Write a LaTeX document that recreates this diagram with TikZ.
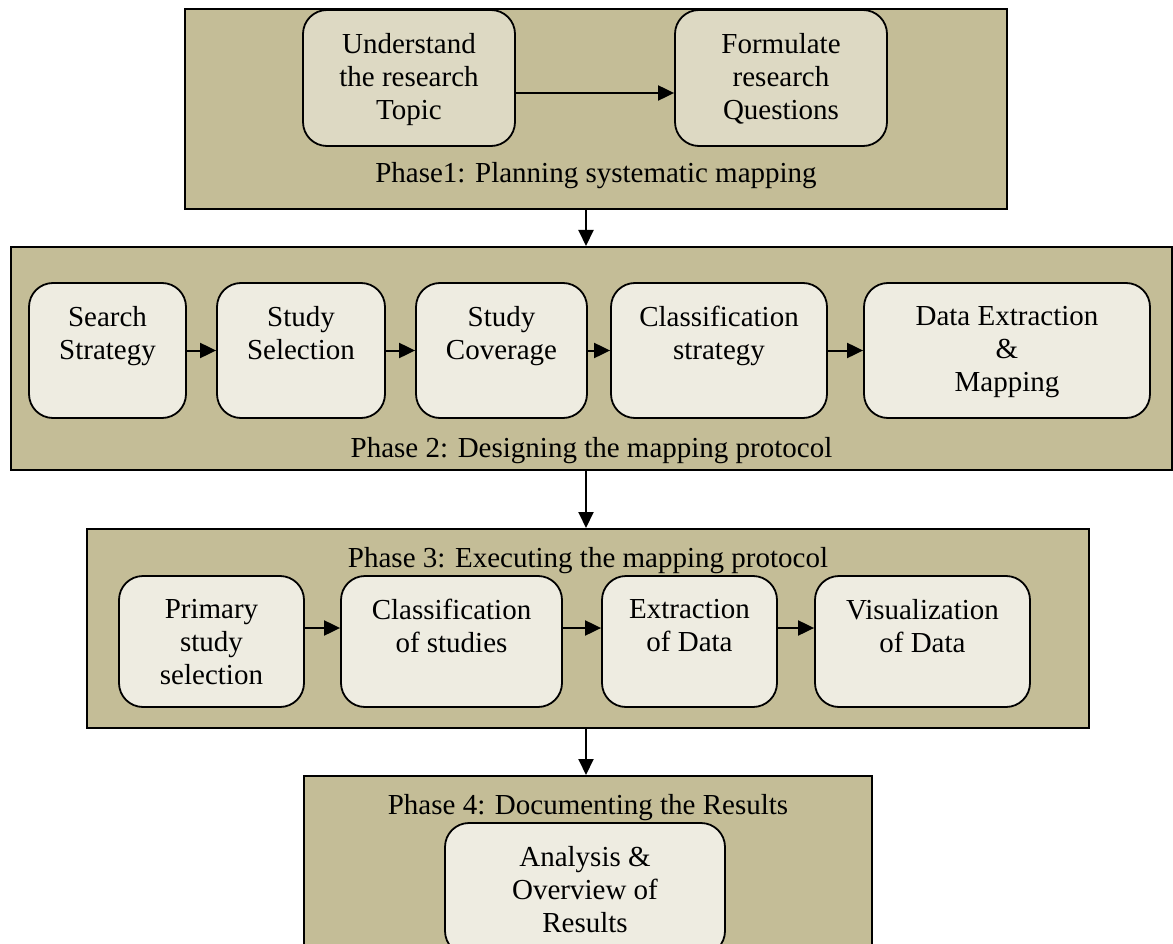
\documentclass[tikz,border=0pt]{standalone}
\usepackage{fontspec}
\setmainfont{Liberation Serif}
\usetikzlibrary{arrows.meta}
\definecolor{phasefill}{HTML}{C4BD97}
\definecolor{lightfill}{HTML}{DDD9C3}
\definecolor{palefill}{HTML}{EEECE1}
\begin{document}
\begin{tikzpicture}[x=1pt,y=-1pt,
  phase/.style={draw=black, line width=2pt, fill=phasefill, inner sep=0pt},
  inbox/.style={draw=black, line width=1.8pt, fill=palefill, rounded corners=24pt, inner sep=0pt},
  topbox/.style={inbox, fill=lightfill},
  txt/.style={font=\fontsize{29}{33}\selectfont, align=center, inner sep=0pt},
  arr/.style={line width=2pt, -{Triangle[length=16pt,width=15pt]}}]
\useasboundingbox (0,0) rectangle (1173,944);
\clip (0,0) rectangle (1173,944);
\fill[white] (0,0) rectangle (1173,944);
\coordinate (ax) at (586,0);

% phase frames
\node[phase, minimum width=822pt, minimum height=200pt] (p1) at (596,109) {};
\node[phase, minimum width=1161pt, minimum height=223pt] (p2) at (591.5,358.5) {};
\node[phase, minimum width=1002pt, minimum height=199pt] (p3) at (588,628.5) {};
\node[phase, minimum width=568pt, minimum height=204pt] (p4) at (588,878) {};

% phase 1
\node[topbox, minimum width=212pt, minimum height=136pt] (u) at (409,78) {};
\node[topbox, minimum width=212pt, minimum height=136pt] (f) at (781,78) {};
\node[txt, anchor=north] (ut) at ([yshift=-24pt]u.north) {Understand\\the research\\Topic};
\node[txt, anchor=north] (ft) at ([yshift=-24pt]f.north) {Formulate\\research\\Questions};
\node[txt, anchor=base] (p1l) at ([yshift=27pt]p1.south) {Phase1: Planning systematic mapping};

% phase 2
\node[inbox, minimum width=157pt, minimum height=135pt] (s1) at (107.5,350.5) {};
\node[inbox, minimum width=168pt, minimum height=135pt] (s2) at (301,350.5) {};
\node[inbox, minimum width=171pt, minimum height=135pt] (s3) at (501.5,350.5) {};
\node[inbox, minimum width=216pt, minimum height=135pt] (s4) at (719,350.5) {};
\node[inbox, minimum width=286pt, minimum height=135pt] (s5) at (1007,350.5) {};
\node[txt, anchor=north] (s1t) at ([yshift=-24pt]s1.north) {Search\\Strategy};
\node[txt, anchor=north] (s2t) at ([yshift=-24pt]s2.north) {Study\\Selection};
\node[txt, anchor=north] (s3t) at ([yshift=-24pt]s3.north) {Study\\Coverage};
\node[txt, anchor=north] (s4t) at ([yshift=-24pt]s4.north) {Classification\\strategy};
\node[txt, anchor=north] (s5t) at ([yshift=-24pt]s5.north) {Data Extraction\\\&\\Mapping};
\node[txt, anchor=base] (p2l) at ([yshift=14pt]p2.south) {Phase 2: Designing the mapping protocol};

% phase 3
\node[inbox, minimum width=185pt, minimum height=131pt] (t1) at (211.5,641.5) {};
\node[inbox, minimum width=221pt, minimum height=131pt] (t2) at (451.5,641.5) {};
\node[inbox, minimum width=175pt, minimum height=131pt] (t3) at (689.5,641.5) {};
\node[inbox, minimum width=215pt, minimum height=131pt] (t4) at (922.5,641.5) {};
\node[txt, anchor=north] (t1t) at ([yshift=-24pt]t1.north) {Primary\\study\\selection};
\node[txt, anchor=north] (t2t) at ([yshift=-24pt]t2.north) {Classification\\of studies};
\node[txt, anchor=north] (t3t) at ([yshift=-24pt]t3.north) {Extraction\\of Data};
\node[txt, anchor=north] (t4t) at ([yshift=-24pt]t4.north) {Visualization\\of Data};
\node[txt, anchor=base] (p3l) at ([yshift=-39pt]p3.north) {Phase 3: Executing the mapping protocol};

% phase 4
\node[inbox, minimum width=280pt, minimum height=132pt] (a1) at (585,889) {};
\node[txt, anchor=north] (a1t) at ([yshift=-24pt]a1.north) {Analysis \&\\Overview of\\Results};
\node[txt, anchor=base] (p4l) at ([yshift=-39pt]p4.north) {Phase 4: Documenting the Results};

% arrows
\draw[arr] ([yshift=-15pt]u.east) -- ([yshift=-15pt]f.west);
\draw[arr] (s1.east) -- (s2.west);
\draw[arr] (s2.east) -- (s3.west);
\draw[arr] (s3.east) -- (s4.west);
\draw[arr] (s4.east) -- (s5.west);
\draw[arr] ([yshift=13.5pt]t1.east) -- ([yshift=13.5pt]t2.west);
\draw[arr] ([yshift=13.5pt]t2.east) -- ([yshift=13.5pt]t3.west);
\draw[arr] ([yshift=13.5pt]t3.east) -- ([yshift=13.5pt]t4.west);
\draw[arr] (p1.south -| ax) -- (p2.north -| ax);
\draw[arr] (p2.south -| ax) -- (p3.north -| ax);
\draw[arr] (p3.south -| ax) -- (p4.north -| ax);
\end{tikzpicture}
\end{document}
